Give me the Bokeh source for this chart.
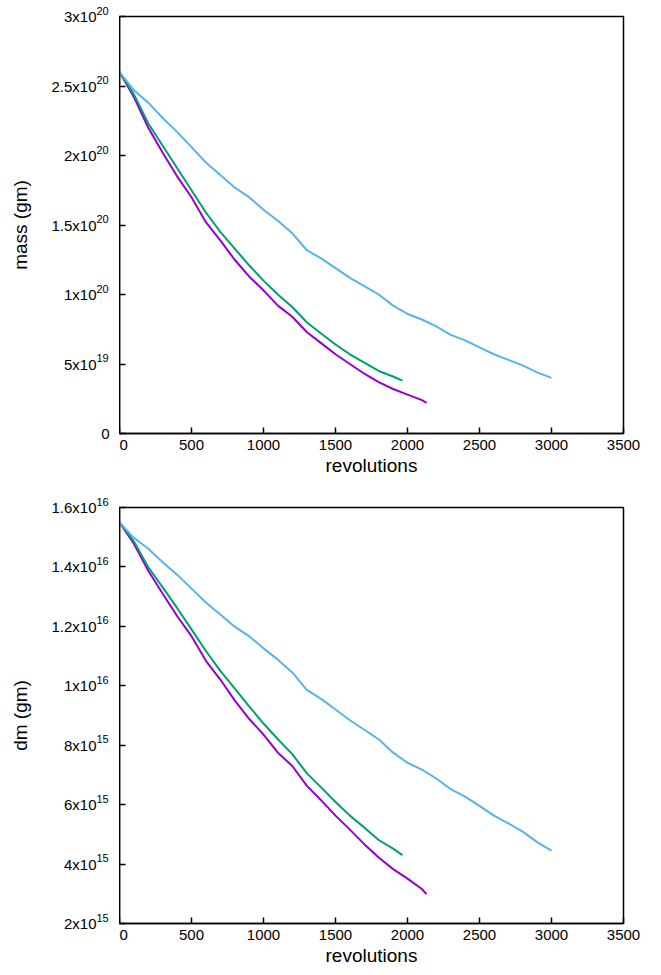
from bokeh.plotting import figure
from bokeh.layouts import column, row
from bokeh.models import FixedTicker, ColumnDataSource
from bokeh.core.properties import value
from bokeh.embed import file_html
from bokeh.resources import INLINE
import math

# revolutions sampled
rev_blue = [0, 100, 200, 300, 400, 500, 600, 700, 800, 900, 1000, 1100, 1200, 1300, 1400,
            1500, 1600, 1700, 1800, 1900, 2000, 2100, 2200, 2300, 2400, 2500, 2600, 2700,
            2800, 2900, 3000]
mass_blue = [2.60, 2.47, 2.38, 2.27, 2.17, 2.06, 1.95, 1.86, 1.77, 1.70, 1.61, 1.53, 1.44,
             1.32, 1.26, 1.19, 1.12, 1.06, 1.00, 0.92, 0.86, 0.82, 0.77, 0.71, 0.67, 0.62,
             0.57, 0.53, 0.49, 0.44, 0.40]
dm_blue = [15.50, 14.98, 14.61, 14.16, 13.74, 13.27, 12.80, 12.40, 11.99, 11.67, 11.26,
           10.88, 10.45, 9.86, 9.56, 9.20, 8.84, 8.52, 8.20, 7.75, 7.41, 7.18, 6.88, 6.52,
           6.27, 5.96, 5.63, 5.37, 5.09, 4.74, 4.45]

rev_green = [0, 100, 200, 300, 400, 500, 600, 700, 800, 900, 1000, 1100, 1200, 1300, 1400,
             1500, 1600, 1700, 1800, 1900, 1965]
mass_green = [2.60, 2.44, 2.23, 2.07, 1.91, 1.75, 1.59, 1.45, 1.33, 1.21, 1.10, 1.00, 0.91,
              0.80, 0.72, 0.64, 0.57, 0.51, 0.45, 0.41, 0.38]
dm_green = [15.50, 14.86, 13.99, 13.31, 12.62, 11.90, 11.17, 10.50, 9.91, 9.31, 8.73, 8.20,
            7.70, 7.06, 6.58, 6.09, 5.63, 5.23, 4.81, 4.52, 4.30]

rev_purple = [0, 100, 200, 300, 400, 500, 600, 700, 800, 900, 1000, 1100, 1200, 1300, 1400,
              1500, 1600, 1700, 1800, 1900, 2000, 2100, 2132]
mass_purple = [2.60, 2.42, 2.20, 2.02, 1.85, 1.70, 1.52, 1.39, 1.25, 1.13, 1.03, 0.92, 0.84,
               0.73, 0.65, 0.57, 0.50, 0.43, 0.37, 0.32, 0.28, 0.24, 0.22]
dm_purple = [15.50, 14.78, 13.87, 13.10, 12.35, 11.67, 10.84, 10.21, 9.51, 8.89, 8.36, 7.75,
             7.30, 6.64, 6.15, 5.63, 5.16, 4.67, 4.22, 3.83, 3.51, 3.16, 2.99]

x_ticks = [0, 500, 1000, 1500, 2000, 2500, 3000, 3500]
mass_ticks = [0, 0.5e20, 1e20, 1.5e20, 2e20, 2.5e20, 3e20]
mass_tick_main = ["0", "5x10", "1x10", "1.5x10", "2x10", "2.5x10", "3x10"]
mass_tick_exp = ["", "19", "20", "20", "20", "20", "20"]
dm_ticks = [2e15, 4e15, 6e15, 8e15, 1e16, 1.2e16, 1.4e16, 1.6e16]
dm_tick_main = ["2x10", "4x10", "6x10", "8x10", "1x10", "1.2x10", "1.4x10", "1.6x10"]
dm_tick_exp = ["15", "15", "15", "15", "16", "16", "16", "16"]

colors = {"purple": "#9400D3", "green": "#009E73", "blue": "#56B4E9"}
FONT = "Liberation Sans"
LAB_W = 119
FRAME_W = 504
SUP_W = 13
GAP = 10


def make_panel(ylabel, y0, y1, yticks, ymain, yexp, b_top, b_bot, frame_h):
    p = figure(output_backend="svg", toolbar_location=None, title=None,
               frame_width=FRAME_W, frame_height=frame_h,
               x_range=(0, 3500), y_range=(y0, y1),
               min_border_left=0, min_border_right=29,
               min_border_top=b_top, min_border_bottom=b_bot)
    p.grid.visible = False
    p.outline_line_color = "black"
    p.outline_line_width = 1.5
    for ax in (p.xaxis[0], p.yaxis[0]):
        ax.axis_line_color = "black"
        ax.axis_line_width = 1.5
        ax.major_tick_in = 6
        ax.major_tick_out = 0
        ax.major_tick_line_width = 1.5
        ax.minor_tick_line_color = None
        ax.major_label_text_font = FONT
        ax.major_label_text_font_size = "15px"
        ax.major_label_text_color = "black"
        ax.axis_label_text_font = FONT
        ax.axis_label_text_font_size = "19px"
        ax.axis_label_text_font_style = "normal"
        ax.axis_label_text_color = "black"
    p.xaxis.ticker = FixedTicker(ticks=x_ticks)
    p.xaxis.major_label_standoff = 6
    p.xaxis.axis_label = "revolutions"
    p.xaxis.axis_label_standoff = 2
    p.yaxis.ticker = FixedTicker(ticks=yticks)
    p.yaxis.major_label_overrides = {t: "" for t in yticks}
    p.yaxis.major_label_standoff = 0

    # label column sharing the y range of the panel; text drawn at overlay level (unclipped)
    lab = figure(output_backend="svg", toolbar_location=None, title=None,
                 frame_width=LAB_W, frame_height=frame_h,
                 x_range=(0, LAB_W), y_range=p.y_range,
                 min_border_left=0, min_border_right=0,
                 min_border_top=b_top, min_border_bottom=b_bot)
    lab.axis.visible = False
    lab.grid.visible = False
    lab.outline_line_color = None
    src = ColumnDataSource(dict(
        x=[LAB_W] * len(yticks), y=yticks, main=ymain, exp=yexp,
        off=[-(GAP + (SUP_W if e else 0)) for e in yexp]))
    r1 = lab.text(x="x", y="y", text="main", x_offset="off", source=src,
                  text_align="right", text_baseline="middle",
                  text_font=value(FONT), text_font_size=value("15px"), text_color="black")
    r2 = lab.text(x="x", y="y", text="exp", x_offset="off", y_offset=-6, source=src,
                  text_align="left", text_baseline="middle",
                  text_font=value(FONT), text_font_size=value("11px"), text_color="black")
    r3 = lab.text(x=[20], y=[(y0 + y1) / 2], text=[ylabel], angle=math.pi / 2,
                  text_align="center", text_baseline="middle",
                  text_font=value(FONT), text_font_size=value("19px"), text_color="black")
    for r in (r1, r2, r3):
        r.level = "overlay"
    return p, lab


p1, l1 = make_panel("mass (gm)", 0, 3e20, mass_ticks, mass_tick_main, mass_tick_exp, 16, 57, 417)
p1.line(rev_purple, [v * 1e20 for v in mass_purple], color=colors["purple"], line_width=2)
p1.line(rev_green, [v * 1e20 for v in mass_green], color=colors["green"], line_width=2)
p1.line(rev_blue, [v * 1e20 for v in mass_blue], color=colors["blue"], line_width=2)

p2, l2 = make_panel("dm (gm)", 2e15, 1.6e16, dm_ticks, dm_tick_main, dm_tick_exp, 17, 45, 416)
p2.line(rev_purple, [v * 1e15 for v in dm_purple], color=colors["purple"], line_width=2)
p2.line(rev_green, [v * 1e15 for v in dm_green], color=colors["green"], line_width=2)
p2.line(rev_blue, [v * 1e15 for v in dm_blue], color=colors["blue"], line_width=2)

layout = column(row(l1, p1, spacing=0), row(l2, p2, spacing=0), spacing=0)
open("out.html", "w").write(file_html(layout, INLINE))
